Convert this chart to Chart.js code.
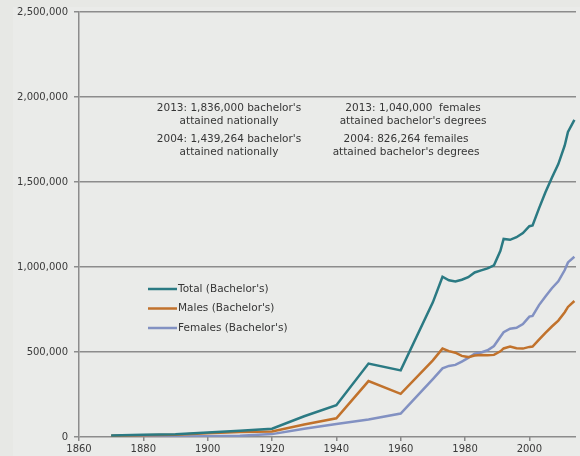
<!DOCTYPE html>
<html>
<head>
<meta charset="utf-8">
<script src="https://cdn.jsdelivr.net/npm/chart.js@4.4.1/dist/chart.umd.min.js"></script>
<style>
  html, body { margin: 0; padding: 0; background: #e7e8e5; }
  #wrap { position: relative; width: 580px; height: 456px; }
</style>
</head>
<body>
<div id="wrap"><canvas id="degreesChart" width="580" height="456"></canvas></div>
<script>
// years (end of academic year), values in people
const years = [1870, 1880, 1890, 1900, 1910, 1920, 1930, 1940, 1950, 1960,
  1970, 1973, 1975, 1977, 1979, 1981, 1983, 1985, 1987, 1989,
  1991, 1992, 1994, 1996, 1998, 2000, 2001, 2003, 2005, 2007,
  2009, 2011, 2012, 2014];

const totalBachelors = [9000, 13000, 16000, 27000, 37000, 49000, 122000, 187000, 432000, 392000,
  792000, 943000, 922000, 915000, 925000, 940000, 968000, 980000, 992000, 1010000,
  1095000, 1165000, 1160000, 1175000, 1200000, 1240000, 1245000, 1345000, 1440000, 1525000,
  1605000, 1715000, 1795000, 1865000];

const maleBachelors = [8000, 10000, 13000, 22000, 29000, 32000, 74000, 110000, 329000, 254000,
  451000, 520000, 505000, 496000, 477000, 470000, 479000, 483000, 481000, 483000,
  504000, 521000, 532000, 522000, 520000, 530000, 532000, 573000, 613000, 650000,
  685000, 734000, 765000, 800000];

const femaleBachelors = [1000, 2000, 3000, 5000, 8000, 17000, 49000, 77000, 103000, 138000,
  341000, 404000, 418000, 424000, 444000, 465000, 490000, 497000, 510000, 535000,
  590000, 616000, 637000, 642000, 664000, 708000, 712000, 776000, 826000, 875000,
  916000, 982000, 1027000, 1060000];

const seriesLabels = ["Total (Bachelor's)", "Males (Bachelor's)", "Females (Bachelor's)"];
const yTicks = [0, 500000, 1000000, 1500000, 2000000, 2500000];

const notesLeft = ["2013: 1,836,000 bachelor's", 'attained nationally',
  "2004: 1,439,264 bachelor's", 'attained nationally'];
const notesRight = ['2013: 1,040,000  females', "attained bachelor's degrees",
  '2004: 826,264 femailes', "attained bachelor's degrees"];

const toPoints = (arr) => arr.map((v, i) => ({ x: years[i], y: v }));
const FONT = '"DejaVu Sans", "Liberation Sans", sans-serif';

// background, in-chart legend and the text notes
const overlayPlugin = {
  id: 'overlay',
  beforeDraw(chart) {
    const ctx = chart.ctx;
    ctx.save();
    ctx.fillStyle = '#eaebe9';
    ctx.fillRect(13, 7, chart.width - 13, chart.height - 7);
    ctx.restore();
  },
  afterDraw(chart) {
    const ctx = chart.ctx;
    ctx.save();
    ctx.font = '10.5px ' + FONT;
    ctx.fillStyle = '#363636';
    ctx.textAlign = 'center';
    ctx.textBaseline = 'middle';
    const rowsY = [108, 121, 139, 152];
    notesLeft.forEach((t, i) => ctx.fillText(t, 229, rowsY[i]));
    notesRight.forEach((t, i) => ctx.fillText(t, i < 2 ? 413 : 406, rowsY[i]));

    // legend
    ctx.textAlign = 'left';
    chart.data.datasets.forEach((ds, i) => {
      const y = 289 + i * 19.5;
      ctx.strokeStyle = ds.borderColor;
      ctx.lineWidth = 2.5;
      ctx.beginPath();
      ctx.moveTo(148, y);
      ctx.lineTo(177, y);
      ctx.stroke();
      ctx.fillStyle = '#363636';
      ctx.fillText(ds.label, 178, y);
    });
    ctx.restore();
  },
};

new Chart(document.getElementById('degreesChart').getContext('2d'), {
  type: 'line',
  data: {
    datasets: [
      { label: seriesLabels[0], data: toPoints(totalBachelors), borderColor: '#2b7a83' },
      { label: seriesLabels[1], data: toPoints(maleBachelors), borderColor: '#c1722c' },
      { label: seriesLabels[2], data: toPoints(femaleBachelors), borderColor: '#8291c2' },
    ],
  },
  options: {
    responsive: false,
    animation: false,
    layout: { padding: { top: 12, right: 4, left: 0, bottom: 0 } },
    elements: {
      point: { radius: 0 },
      line: { borderWidth: 2.5, tension: 0 },
    },
    plugins: {
      legend: { display: false },
      tooltip: { enabled: false },
    },
    scales: {
      x: {
        type: 'linear',
        min: 1860,
        max: 2014.5,
        afterFit: (s) => { s.height = 19; },
        grid: { drawOnChartArea: false, color: '#8a8a8a', tickLength: 4, lineWidth: 1.5 },
        border: { display: false },
        ticks: {
          stepSize: 20,
          includeBounds: false,
          padding: 2,
          color: '#3a3a3a',
          font: { family: FONT, size: 10 },
          callback: (v) => String(v),
          maxRotation: 0,
        },
      },
      y: {
        min: 0,
        max: 2500000,
        afterFit: (s) => { s.width = 79; },
        afterBuildTicks: (s) => { s.ticks = yTicks.map((v) => ({ value: v })); },
        grid: { color: '#8c8c8c', lineWidth: 1.5, tickLength: 5 },
        border: { color: '#8c8c8c', width: 1.5 },
        ticks: {
          padding: 6,
          color: '#3a3a3a',
          font: { family: FONT, size: 10 },
          callback: (v) => v.toLocaleString('en-US'),
        },
      },
    },
  },
  plugins: [overlayPlugin],
});
</script>
</body>
</html>
